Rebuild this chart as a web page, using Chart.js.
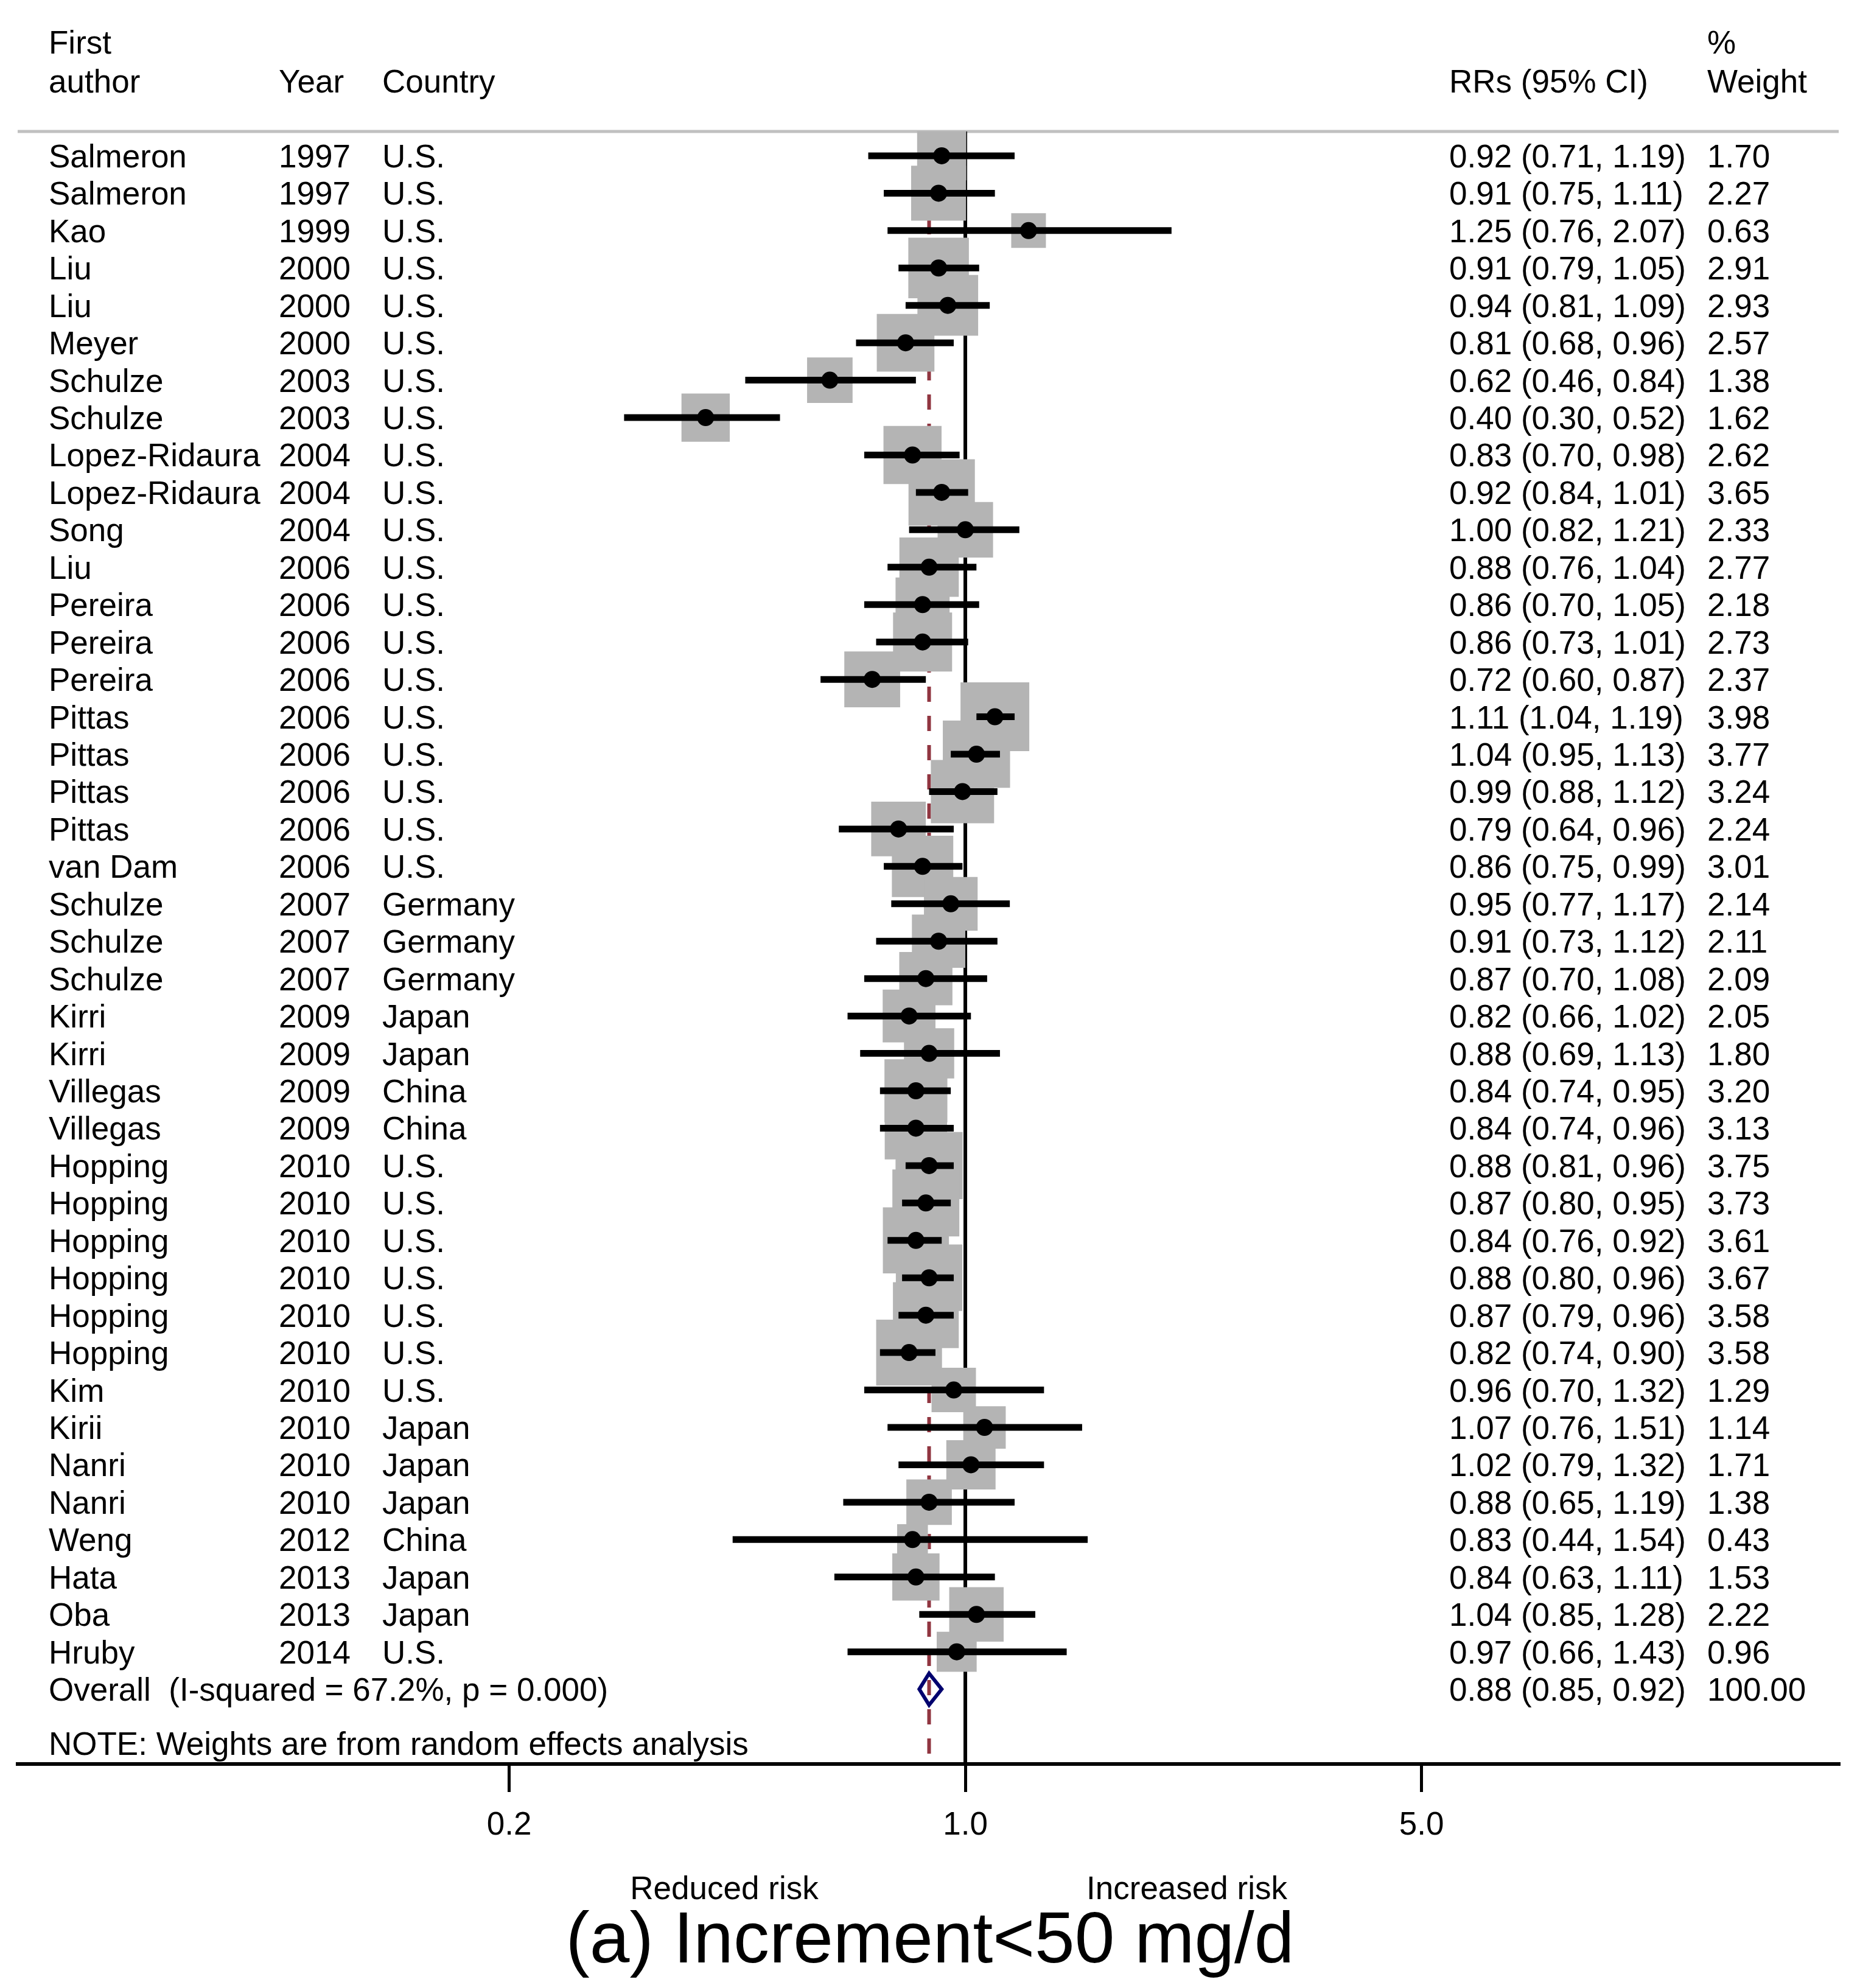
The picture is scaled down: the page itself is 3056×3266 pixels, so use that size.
<!DOCTYPE html>
<html>
<head>
<meta charset="utf-8">
<title>Increment&lt;50 mg/d forest plot</title>
<script src="https://cdn.jsdelivr.net/npm/chart.js@4.4.1/dist/chart.umd.min.js"></script>
<style>
  html, body { margin: 0; padding: 0; background: #fff; }
  canvas { display: block; }
</style>
</head>
<body>
<canvas id="forest" width="3056" height="3266"></canvas>
<script>
// study rows, top to bottom
const authors = ["Salmeron", "Salmeron", "Kao", "Liu", "Liu", "Meyer", "Schulze", "Schulze",
  "Lopez-Ridaura", "Lopez-Ridaura", "Song", "Liu", "Pereira", "Pereira", "Pereira",
  "Pittas", "Pittas", "Pittas", "Pittas", "van Dam", "Schulze", "Schulze", "Schulze",
  "Kirri", "Kirri", "Villegas", "Villegas", "Hopping", "Hopping", "Hopping", "Hopping",
  "Hopping", "Hopping", "Kim", "Kirii", "Nanri", "Nanri", "Weng", "Hata", "Oba", "Hruby"];
const years = [1997, 1997, 1999, 2000, 2000, 2000, 2003, 2003, 2004, 2004, 2004, 2006, 2006,
  2006, 2006, 2006, 2006, 2006, 2006, 2006, 2007, 2007, 2007, 2009, 2009, 2009, 2009, 2010,
  2010, 2010, 2010, 2010, 2010, 2010, 2010, 2010, 2010, 2012, 2013, 2013, 2014];
const countries = ["U.S.", "U.S.", "U.S.", "U.S.", "U.S.", "U.S.", "U.S.", "U.S.", "U.S.",
  "U.S.", "U.S.", "U.S.", "U.S.", "U.S.", "U.S.", "U.S.", "U.S.", "U.S.", "U.S.", "U.S.",
  "Germany", "Germany", "Germany", "Japan", "Japan", "China", "China", "U.S.", "U.S.",
  "U.S.", "U.S.", "U.S.", "U.S.", "U.S.", "Japan", "Japan", "Japan", "China", "Japan",
  "Japan", "U.S."];
const rr = [0.92, 0.91, 1.25, 0.91, 0.94, 0.81, 0.62, 0.40, 0.83, 0.92, 1.00, 0.88, 0.86,
  0.86, 0.72, 1.11, 1.04, 0.99, 0.79, 0.86, 0.95, 0.91, 0.87, 0.82, 0.88, 0.84, 0.84, 0.88,
  0.87, 0.84, 0.88, 0.87, 0.82, 0.96, 1.07, 1.02, 0.88, 0.83, 0.84, 1.04, 0.97];
const lower = [0.71, 0.75, 0.76, 0.79, 0.81, 0.68, 0.46, 0.30, 0.70, 0.84, 0.82, 0.76, 0.70,
  0.73, 0.60, 1.04, 0.95, 0.88, 0.64, 0.75, 0.77, 0.73, 0.70, 0.66, 0.69, 0.74, 0.74, 0.81,
  0.80, 0.76, 0.80, 0.79, 0.74, 0.70, 0.76, 0.79, 0.65, 0.44, 0.63, 0.85, 0.66];
const upper = [1.19, 1.11, 2.07, 1.05, 1.09, 0.96, 0.84, 0.52, 0.98, 1.01, 1.21, 1.04, 1.05,
  1.01, 0.87, 1.19, 1.13, 1.12, 0.96, 0.99, 1.17, 1.12, 1.08, 1.02, 1.13, 0.95, 0.96, 0.96,
  0.95, 0.92, 0.96, 0.96, 0.90, 1.32, 1.51, 1.32, 1.19, 1.54, 1.11, 1.28, 1.43];
const weights = [1.70, 2.27, 0.63, 2.91, 2.93, 2.57, 1.38, 1.62, 2.62, 3.65, 2.33, 2.77, 2.18,
  2.73, 2.37, 3.98, 3.77, 3.24, 2.24, 3.01, 2.14, 2.11, 2.09, 2.05, 1.80, 3.20, 3.13, 3.75,
  3.73, 3.61, 3.67, 3.58, 3.58, 1.29, 1.14, 1.71, 1.38, 0.43, 1.53, 2.22, 0.96];

// pooled estimate [rr, lower, upper] and its row text
const overall = [0.88, 0.85, 0.92];
const overallLabel = "Overall  (I-squared = 67.2%, p = 0.000)";
const overallWeight = "100.00";
const noteText = "NOTE: Weights are from random effects analysis";
const xTicks = [0.2, 1.0, 5.0];

const FONT = "'Liberation Sans', Arial, Helvetica, sans-serif";
const overallRow = authors.length;        // row index of pooled line
const noteRow = overallRow + 1.45;
const COL = { author: 80, year: 458, country: 628, rr: 2381, weight: 2805 };

const fmt = v => v.toFixed(2);
const boxRadius = w => (20 + 46.6 * Math.sqrt(w)) / Math.SQRT2;  // pointStyle 'rect' side = r*sqrt2

const ciPoints = [];
rr.forEach((_, i) => {
  ciPoints.push({ x: lower[i], y: i }, { x: upper[i], y: i });
});

const forestDecor = {
  id: 'forestDecor',
  beforeDatasetsDraw(chart) {
    const { ctx, chartArea: a, scales: { x } } = chart;
    ctx.save();
    // header rule
    ctx.strokeStyle = '#c0c0c0';
    ctx.lineWidth = 5;
    ctx.beginPath();
    ctx.moveTo(a.left, a.top);
    ctx.lineTo(a.right, a.top);
    ctx.stroke();
    // line of no effect
    const x1 = x.getPixelForValue(1);
    ctx.strokeStyle = '#000';
    ctx.lineWidth = 6;
    ctx.beginPath();
    ctx.moveTo(x1, a.top);
    ctx.lineTo(x1, a.bottom);
    ctx.stroke();
    // pooled estimate, dashed
    const xo = x.getPixelForValue(overall[0]);
    ctx.strokeStyle = '#903540';
    ctx.setLineDash([25, 23]);
    ctx.beginPath();
    ctx.moveTo(xo, a.top);
    ctx.lineTo(xo, a.bottom);
    ctx.stroke();
    ctx.restore();
  },
  afterDatasetsDraw(chart) {
    const { ctx, scales: { x, y } } = chart;
    const yc = y.getPixelForValue(overallRow);
    const xl = x.getPixelForValue(overall[1]);
    const xm = x.getPixelForValue(overall[0]);
    const xr = x.getPixelForValue(overall[2]);
    ctx.save();
    ctx.strokeStyle = '#00006e';
    ctx.lineWidth = 6;
    ctx.beginPath();
    ctx.moveTo(xl, yc);
    ctx.lineTo(xm, yc - 26);
    ctx.lineTo(xr, yc);
    ctx.lineTo(xm, yc + 26);
    ctx.closePath();
    ctx.stroke();
    ctx.restore();
  },
  afterDraw(chart) {
    const { ctx, scales: { y } } = chart;
    const base = i => y.getPixelForValue(i) + 19;
    ctx.save();
    ctx.fillStyle = '#000';
    ctx.textBaseline = 'alphabetic';
    ctx.textAlign = 'left';
    ctx.font = `53px ${FONT}`;

    ctx.fillText('First', COL.author, 88);
    ctx.fillText('author', COL.author, 152);
    ctx.fillText('Year', COL.year, 152);
    ctx.fillText('Country', COL.country, 152);
    ctx.fillText('RRs (95% CI)', COL.rr, 152);
    ctx.fillText('%', COL.weight, 88);
    ctx.fillText('Weight', COL.weight, 152);

    authors.forEach((name, i) => {
      const yb = base(i);
      ctx.fillText(name, COL.author, yb);
      ctx.fillText(String(years[i]), COL.year, yb);
      ctx.fillText(countries[i], COL.country, yb);
      ctx.fillText(`${fmt(rr[i])} (${fmt(lower[i])}, ${fmt(upper[i])})`, COL.rr, yb);
      ctx.fillText(fmt(weights[i]), COL.weight, yb);
    });

    const yo = base(overallRow);
    ctx.fillText(overallLabel, COL.author, yo);
    ctx.fillText(`${fmt(overall[0])} (${fmt(overall[1])}, ${fmt(overall[2])})`, COL.rr, yo);
    ctx.fillText(overallWeight, COL.weight, yo);
    ctx.fillText(noteText, COL.author, base(noteRow));

    ctx.textAlign = 'center';
    ctx.fillText('Reduced risk', 1190, 3120);
    ctx.fillText('Increased risk', 1950, 3120);
    ctx.font = `118px ${FONT}`;
    ctx.fillText('(a) Increment<50 mg/d', 1528, 3224);
    ctx.restore();
  }
};

new Chart(document.getElementById('forest'), {
  type: 'scatter',
  data: {
    datasets: [
      {
        // point estimates
        data: rr.map((v, i) => ({ x: v, y: i })),
        pointStyle: 'circle',
        pointRadius: 14,
        backgroundColor: '#000',
        borderWidth: 0,
        clip: false,
        order: 1
      },
      {
        // confidence intervals, one segment per study
        data: ciPoints,
        showLine: true,
        pointRadius: 0,
        borderColor: '#000',
        borderWidth: 11,
        borderCapStyle: 'butt',
        segment: {
          borderColor: c => (c.p0DataIndex % 2 === 0 ? '#000' : 'rgba(0,0,0,0)')
        },
        clip: false,
        order: 2
      },
      {
        // weight boxes
        data: rr.map((v, i) => ({ x: v, y: i })),
        pointStyle: 'rect',
        pointRadius: weights.map(boxRadius),
        backgroundColor: '#b4b4b4',
        borderWidth: 0,
        clip: false,
        order: 3
      }
    ]
  },
  options: {
    responsive: false,
    animation: false,
    devicePixelRatio: 1,
    events: [],
    layout: { autoPadding: false, padding: { left: 29, right: 35, top: 216, bottom: 218 } },
    scales: {
      x: {
        type: 'logarithmic',
        min: 0.03531,
        max: 21.79,
        bounds: 'data',
        afterBuildTicks: axis => { axis.ticks = xTicks.map(v => ({ value: v })); },
        afterFit: axis => { axis.height = 150; },
        ticks: {
          callback: v => Number(v).toFixed(1),
          font: { family: FONT, size: 53 },
          color: '#000',
          padding: 24,
          maxRotation: 0,
          autoSkip: false
        },
        grid: {
          drawOnChartArea: false,
          drawTicks: true,
          tickLength: 46,
          lineWidth: 5,
          color: '#000'
        },
        border: { display: true, width: 6, color: '#000' }
      },
      y: {
        type: 'linear',
        reverse: true,
        min: -0.65,
        max: 43.0,
        display: false
      }
    },
    plugins: {
      legend: { display: false },
      tooltip: { enabled: false }
    }
  },
  plugins: [forestDecor]
});
</script>
</body>
</html>
